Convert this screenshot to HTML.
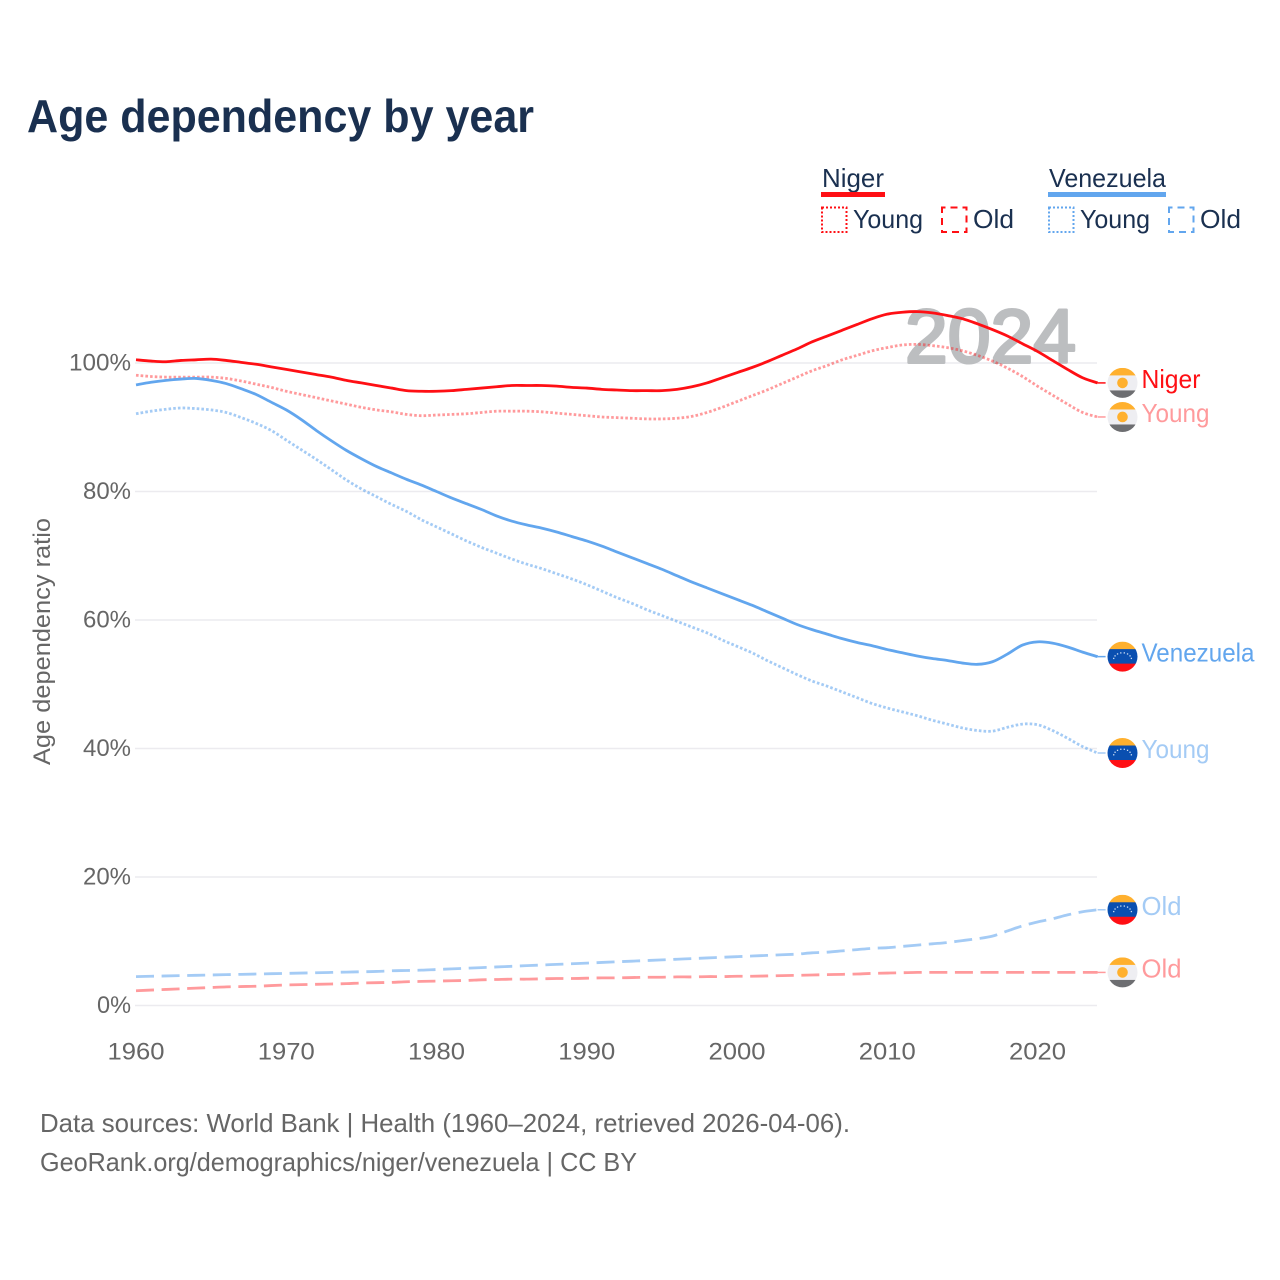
<!DOCTYPE html>
<html lang="en">
<head>
<meta charset="utf-8">
<title>Age dependency by year</title>
<style>
html,body{margin:0;padding:0;background:#fff;}
svg{display:block;font-family:"Liberation Sans",sans-serif;}
</style>
</head>
<body>
<svg id="chart" xmlns="http://www.w3.org/2000/svg" width="1280" height="1280" viewBox="0 0 1280 1280">
  <rect x="0" y="0" width="1280" height="1280" fill="#fff"/>
  <text x="27" y="132" font-size="46" font-weight="700" fill="#1a3050" textLength="507" lengthAdjust="spacingAndGlyphs">Age dependency by year</text>

  <g font-size="26" fill="#1a3050">
    <text x="822" y="187" textLength="62" lengthAdjust="spacingAndGlyphs">Niger</text>
    <rect x="821" y="192" width="64" height="5" fill="#ff0f14"/>
    <rect x="822" y="207.5" width="24.5" height="24.5" fill="none" stroke="#ff0f14" stroke-width="2" stroke-dasharray="2 2"/>
    <text x="853" y="228" textLength="70" lengthAdjust="spacingAndGlyphs">Young</text>
    <rect x="942" y="207.5" width="24.5" height="24.5" fill="none" stroke="#ff0f14" stroke-width="2" stroke-dasharray="7 5" stroke-dashoffset="3.5"/>
    <text x="973" y="228" textLength="41" lengthAdjust="spacingAndGlyphs">Old</text>
    <text x="1049" y="187" textLength="117" lengthAdjust="spacingAndGlyphs">Venezuela</text>
    <rect x="1048" y="192" width="118" height="5" fill="#62a6ee"/>
    <rect x="1049" y="207.5" width="24.5" height="24.5" fill="none" stroke="#62a6ee" stroke-width="2" stroke-dasharray="2 2"/>
    <text x="1080" y="228" textLength="70" lengthAdjust="spacingAndGlyphs">Young</text>
    <rect x="1169" y="207.5" width="24.5" height="24.5" fill="none" stroke="#62a6ee" stroke-width="2" stroke-dasharray="7 5" stroke-dashoffset="3.5"/>
    <text x="1200" y="228" textLength="41" lengthAdjust="spacingAndGlyphs">Old</text>
  </g>

  <g id="grid"></g>
  <text x="905" y="362.5" font-size="76" fill="#bcbec0" stroke="#bcbec0" stroke-width="3" stroke-linejoin="round" textLength="171" lengthAdjust="spacingAndGlyphs">2024</text>
  <g id="yticks"></g>
  <g id="xticks"></g>
  <text transform="translate(50,765) rotate(-90)" x="0" y="0" font-size="24" fill="#666" textLength="247" lengthAdjust="spacingAndGlyphs">Age dependency ratio</text>
  <g id="series"></g>
  <g id="ends"></g>

  <text x="40" y="1132" font-size="26" fill="#666" textLength="810" lengthAdjust="spacingAndGlyphs">Data sources: World Bank | Health (1960–2024, retrieved 2026-04-06).</text>
  <text x="40" y="1171" font-size="26" fill="#666" textLength="597" lengthAdjust="spacingAndGlyphs">GeoRank.org/demographics/niger/venezuela | CC BY</text>
</svg>
<script>
const startYear = 1960;
const xTicks = [1960, 1970, 1980, 1990, 2000, 2010, 2020];
const yTicks = [0, 20, 40, 60, 80, 100];

const nigerTotal = [
  100.5,100.3,100.2,100.4,100.5,100.6,100.4,100.1,99.8,99.4,
  99.0,98.6,98.2,97.8,97.3,96.9,96.5,96.1,95.7,95.6,
  95.6,95.7,95.9,96.1,96.3,96.5,96.5,96.5,96.4,96.2,
  96.1,95.9,95.8,95.7,95.7,95.7,95.9,96.3,96.9,97.7,
  98.5,99.3,100.2,101.2,102.2,103.3,104.2,105.1,106.0,106.9,
  107.6,107.9,108.0,107.8,107.4,106.9,106.1,105.2,104.2,103.0,
  101.8,100.4,99.0,97.7,96.9];
const nigerYoung = [
  98.1,97.9,97.8,97.8,97.8,97.8,97.6,97.2,96.7,96.2,
  95.6,95.1,94.6,94.1,93.6,93.1,92.7,92.4,92.0,91.8,
  91.9,92.0,92.1,92.3,92.5,92.5,92.5,92.4,92.2,92.0,
  91.8,91.6,91.5,91.4,91.3,91.3,91.4,91.7,92.3,93.1,
  94.0,94.9,95.8,96.8,97.8,98.8,99.6,100.5,101.2,101.9,
  102.4,102.8,102.9,102.7,102.4,101.9,101.2,100.3,99.2,97.9,
  96.4,95.0,93.6,92.3,91.6];
const nigerOld = [
  2.3,2.4,2.5,2.6,2.7,2.8,2.9,2.95,3.0,3.1,
  3.2,3.25,3.3,3.35,3.4,3.5,3.55,3.6,3.7,3.75,
  3.8,3.85,3.9,4.0,4.05,4.1,4.1,4.15,4.2,4.2,
  4.25,4.3,4.3,4.35,4.4,4.4,4.45,4.45,4.5,4.5,
  4.55,4.55,4.6,4.65,4.7,4.75,4.8,4.85,4.9,5.0,
  5.05,5.1,5.15,5.15,5.15,5.15,5.15,5.15,5.15,5.15,
  5.15,5.15,5.15,5.15,5.15];
const venezuelaTotal = [
  96.6,97.0,97.3,97.5,97.6,97.3,96.8,96.0,95.1,93.9,
  92.7,91.2,89.5,87.9,86.4,85.1,83.9,82.9,81.9,81.0,
  80.0,79.0,78.1,77.2,76.2,75.4,74.8,74.3,73.7,73.0,
  72.3,71.5,70.6,69.7,68.8,67.9,66.9,65.9,65.0,64.1,
  63.2,62.3,61.3,60.3,59.3,58.5,57.8,57.1,56.5,56.0,
  55.4,54.9,54.4,54.0,53.7,53.3,53.1,53.5,54.7,56.1,
  56.6,56.4,55.8,55.0,54.3];
const venezuelaYoung = [
  92.1,92.5,92.8,93.0,92.9,92.7,92.3,91.5,90.6,89.5,
  88.0,86.5,85.0,83.4,81.8,80.4,79.2,78.0,76.9,75.6,
  74.5,73.4,72.3,71.3,70.4,69.5,68.7,68.0,67.2,66.4,
  65.5,64.5,63.5,62.6,61.6,60.7,59.8,58.9,58.0,56.9,
  55.9,54.9,53.7,52.6,51.5,50.5,49.7,48.8,47.9,47.0,
  46.3,45.7,45.1,44.4,43.8,43.2,42.8,42.7,43.3,43.8,
  43.7,42.8,41.6,40.3,39.3];
const venezuelaOld = [
  4.5,4.55,4.6,4.65,4.7,4.75,4.8,4.85,4.9,4.95,
  5.0,5.05,5.1,5.15,5.2,5.25,5.3,5.4,5.45,5.5,
  5.6,5.7,5.8,5.9,6.0,6.1,6.2,6.3,6.4,6.5,
  6.6,6.7,6.8,6.9,7.0,7.1,7.2,7.3,7.4,7.5,
  7.6,7.7,7.8,7.9,8.0,8.2,8.3,8.5,8.7,8.9,
  9.0,9.2,9.4,9.6,9.8,10.1,10.4,10.8,11.6,12.4,
  13.0,13.5,14.1,14.6,14.9];

const NS = 'http://www.w3.org/2000/svg';
const RED = '#ff0f14';
const BLUE = '#62a6ee';
const xScale = function (year) { return 136 + (year - 1960) * 15.025; };
const yScale = function (pct) { return 1005.5 - pct * 6.425; };

function make(tag, parent, attrs) {
  const el = document.createElementNS(NS, tag);
  Object.keys(attrs).forEach(function (k) { el.setAttribute(k, attrs[k]); });
  parent.appendChild(el);
  return el;
}

const gridG = document.getElementById('grid');
const yG = document.getElementById('yticks');
yTicks.forEach(function (t) {
  const line = make('line', gridG, { x1: 135, x2: 1097, y1: yScale(t), y2: yScale(t), stroke: '#ecebef', 'stroke-width': 1.5 });
  
  
  const label = t + '%';
  const txt = make('text', yG, { x: 131, y: yScale(t) + 7.5, 'text-anchor': 'end', 'font-size': 24, fill: '#666', textLength: 14 * label.length + 6, lengthAdjust: 'spacingAndGlyphs' });
  txt.textContent = label;
  
  
});

const xG = document.getElementById('xticks');
xTicks.forEach(function (t) {
  const txt = make('text', xG, { x: xScale(t), y: 1059.5, 'text-anchor': 'middle', 'font-size': 24, fill: '#666', textLength: 57, lengthAdjust: 'spacingAndGlyphs' });
  txt.textContent = String(t);
  
  
});

function smoothPath(values) {
  const pts = values.map(function (v, i) { return [xScale(startYear + i), yScale(v)]; });
  let d = 'M' + pts[0][0].toFixed(2) + ' ' + pts[0][1].toFixed(2);
  for (let i = 0; i < pts.length - 1; i++) {
    const p0 = pts[Math.max(0, i - 1)], p1 = pts[i], p2 = pts[i + 1], p3 = pts[Math.min(pts.length - 1, i + 2)];
    const c1x = p1[0] + (p2[0] - p0[0]) / 6, c1y = p1[1] + (p2[1] - p0[1]) / 6;
    const c2x = p2[0] - (p3[0] - p1[0]) / 6, c2y = p2[1] - (p3[1] - p1[1]) / 6;
    d += 'C' + c1x.toFixed(2) + ' ' + c1y.toFixed(2) + ' ' + c2x.toFixed(2) + ' ' + c2y.toFixed(2) + ' ' + p2[0].toFixed(2) + ' ' + p2[1].toFixed(2);
  }
  return d;
}

const seriesList = [
  { id: 'venezuela-old', values: venezuelaOld, color: BLUE, alpha: 0.58, dash: '18 7.6', label: 'Old', flag: 've' },
  { id: 'niger-old', values: nigerOld, color: RED, alpha: 0.42, dash: '18 7.6', label: 'Old', flag: 'ne' },
  { id: 'venezuela-young', values: venezuelaYoung, color: BLUE, alpha: 0.58, dash: '2.6 2.1', label: 'Young', flag: 've' },
  { id: 'niger-young', values: nigerYoung, color: RED, alpha: 0.42, dash: '2.6 2.1', label: 'Young', flag: 'ne' },
  { id: 'venezuela-total', values: venezuelaTotal, color: BLUE, alpha: 1, dash: '', label: 'Venezuela', flag: 've' },
  { id: 'niger-total', values: nigerTotal, color: RED, alpha: 1, dash: '', label: 'Niger', flag: 'ne' }
];
const labelWidths = { Niger: 59, Young: 68, Venezuela: 113, Old: 40 };

const seriesG = document.getElementById('series');
const endsG = document.getElementById('ends');
const defs = make('defs', endsG, {});
const FLAG_X = 1122.5;
const FLAG_R = 15;

function drawFlag(s, y) {
  const g = make('g', endsG, {});
  
  
  const clip = make('clipPath', defs, { id: 'clip-' + s.id });
  make('circle', clip, { cx: FLAG_X, cy: y, r: FLAG_R });
  const inner = make('g', g, { 'clip-path': 'url(#clip-' + s.id + ')' });
  const x0 = FLAG_X - FLAG_R;
  const w = FLAG_R * 2;
  if (s.flag === 'ne') {
    make('rect', inner, { x: x0, y: y - 15, width: w, height: 8, fill: '#ffb02e' });
    make('rect', inner, { x: x0, y: y - 7.5, width: w, height: 15, fill: '#eeeef2' });
    make('rect', inner, { x: x0, y: y + 7.5, width: w, height: 8, fill: '#6d6e71' });
    make('circle', inner, { cx: FLAG_X, cy: y, r: 5.3, fill: '#ffb02e' });
  } else {
    make('rect', inner, { x: x0, y: y - 15, width: w, height: 8, fill: '#ffb02e' });
    make('rect', inner, { x: x0, y: y - 7.5, width: w, height: 15, fill: '#0a4fb0' });
    make('rect', inner, { x: x0, y: y + 7, width: w, height: 9, fill: '#ff0f14' });
    for (let i = 0; i < 8; i++) {
      const a = Math.PI * (1 - (i + 0.5) / 8);
      make('rect', inner, { x: FLAG_X + 9 * Math.cos(a) - 0.6, y: y + 2.5 - 7 * Math.sin(a), width: 1.3, height: 1.3, fill: '#cfe0f5' });
    }
  }
}

seriesList.forEach(function (s) {
  const attrs = { d: smoothPath(s.values), fill: 'none', stroke: s.color, 'stroke-opacity': s.alpha, 'stroke-width': 2.8, 'stroke-linejoin': 'round' };
  if (s.dash) { attrs['stroke-dasharray'] = s.dash; }
  const path = make('path', seriesG, attrs);
  
  

  const lastVal = s.values[s.values.length - 1];
  const endX = xScale(startYear + s.values.length - 1);
  const endY = yScale(lastVal);
  const conn = make('line', endsG, { x1: endX, x2: endX + 8, y1: endY, y2: endY, stroke: s.color, 'stroke-opacity': s.alpha, 'stroke-width': 1.5 });
  
  
  drawFlag(s, endY);
  const txt = make('text', endsG, { x: 1141.5, y: endY + 5, 'font-size': 26, fill: s.color, 'fill-opacity': s.alpha, textLength: labelWidths[s.label], lengthAdjust: 'spacingAndGlyphs' });
  txt.textContent = s.label;
  
  
});
</script>
</body>
</html>
